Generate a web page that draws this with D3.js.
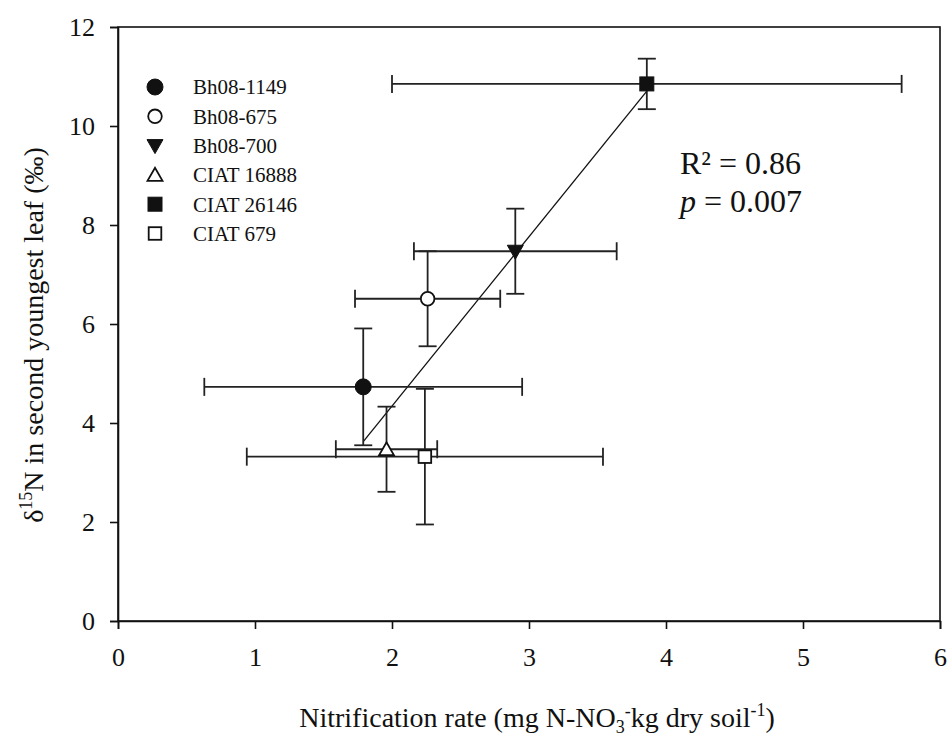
<!DOCTYPE html>
<html><head><meta charset="utf-8">
<script src="https://cdn.jsdelivr.net/npm/d3@7"></script>
<style>
html,body{margin:0;padding:0;background:#fff;}
</style></head>
<body><svg id="c" width="951" height="736"></svg>
<script>
const genotypes = ["Bh08-1149","Bh08-675","Bh08-700","CIAT 16888","CIAT 26146","CIAT 679"];
const nitrification = [1.79, 2.26, 2.90, 1.96, 3.86, 2.24];
const nitrificationErr = [1.16, 0.53, 0.74, 0.37, 1.86, 1.30];
const delta15N = [4.73, 6.51, 7.47, 3.47, 10.85, 3.32];
const delta15NErr = [1.18, 0.96, 0.86, 0.86, 0.51, 1.37];
const symbols = ["circle","circle","triangleDown","triangleUp","square","square"];
const filled = [true,false,true,false,true,false];
const xTicks = [0,1,2,3,4,5,6];
const yTicks = [0,2,4,6,8,10,12];

const FF="Liberation Serif";
const W=951,H=736;
const m={left:118,right:11,top:27,bottom:115};
const svg=d3.select("#c");
const x=d3.scaleLinear().domain([0,6]).range([m.left,W-m.right]);
const y=d3.scaleLinear().domain([0,12]).range([H-m.bottom,m.top]);

svg.append("rect").attr("x",x(0)).attr("y",y(12)).attr("width",x(6)-x(0)).attr("height",y(0)-y(12))
  .attr("fill","none").attr("stroke","#111").attr("stroke-width",1.6);

const xa=svg.append("g").attr("transform",`translate(0,${y(0)})`)
  .call(d3.axisBottom(x).tickValues(xTicks).tickFormat(d3.format("d")).tickSize(8).tickPadding(19));
const ya=svg.append("g").attr("transform",`translate(${x(0)},0)`)
  .call(d3.axisLeft(y).tickValues(yTicks).tickFormat(d3.format("d")).tickSize(8).tickPadding(15));
[xa,ya].forEach(a=>{a.attr("font-family",FF).attr("font-size",26);
  a.select(".domain").attr("stroke","#111").attr("stroke-width",1.6);
  a.selectAll(".tick line").attr("stroke","#111").attr("stroke-width",1.6);
  a.selectAll(".tick text").attr("fill","#111");});

const data=genotypes.map((g,i)=>({g,x:nitrification[i],xe:nitrificationErr[i],y:delta15N[i],ye:delta15NErr[i],s:symbols[i],f:filled[i]}));

const mx=d3.mean(data,d=>d.x),my=d3.mean(data,d=>d.y);
const slope=d3.sum(data,d=>(d.x-mx)*(d.y-my))/d3.sum(data,d=>(d.x-mx)**2);
const icpt=my-slope*mx;
const [x0,x1]=d3.extent(data,d=>d.x);
svg.append("line").attr("x1",x(x0)).attr("y1",y(icpt+slope*x0)).attr("x2",x(x1)).attr("y2",y(icpt+slope*x1))
  .attr("stroke","#111").attr("stroke-width",1.3);

const eb=svg.append("g").attr("stroke","#222").attr("stroke-width",1.8).attr("fill","none");
const cap=9;
data.forEach(d=>{
  eb.append("line").attr("x1",x(d.x-d.xe)).attr("x2",x(d.x+d.xe)).attr("y1",y(d.y)).attr("y2",y(d.y));
  eb.append("line").attr("x1",x(d.x-d.xe)).attr("x2",x(d.x-d.xe)).attr("y1",y(d.y)-cap).attr("y2",y(d.y)+cap);
  eb.append("line").attr("x1",x(d.x+d.xe)).attr("x2",x(d.x+d.xe)).attr("y1",y(d.y)-cap).attr("y2",y(d.y)+cap);
  eb.append("line").attr("x1",x(d.x)).attr("x2",x(d.x)).attr("y1",y(d.y-d.ye)).attr("y2",y(d.y+d.ye));
  eb.append("line").attr("x1",x(d.x)-cap).attr("x2",x(d.x)+cap).attr("y1",y(d.y-d.ye)).attr("y2",y(d.y-d.ye));
  eb.append("line").attr("x1",x(d.x)-cap).attr("x2",x(d.x)+cap).attr("y1",y(d.y+d.ye)).attr("y2",y(d.y+d.ye));
});

function sym(g,s,f,cx,cy){
  const st={fill:f?"#111":"#fff",stroke:"#111","stroke-width":f?1:1.8};
  let el;
  if(s==="circle"){el=g.append("circle").attr("cx",cx).attr("cy",cy).attr("r",f?8:6.8);}
  else if(s==="square"){const h=f?7:6.3;el=g.append("rect").attr("x",cx-h).attr("y",cy-h).attr("width",2*h).attr("height",2*h);}
  else if(s==="triangleDown"){el=g.append("path").attr("d",`M${cx-8},${cy-6}L${cx+8},${cy-6}L${cx},${cy+8}Z`);}
  else {el=g.append("path").attr("d",`M${cx-7.5},${cy+6}L${cx+7.5},${cy+6}L${cx},${cy-7}Z`);}
  Object.entries(st).forEach(([k,v])=>el.attr(k,v));
}
const mk=svg.append("g");
data.forEach(d=>sym(mk,d.s,d.f,x(d.x),y(d.y)));

const txt=(sel,size)=>sel.append("text").attr("font-family",FF).attr("font-size",size).attr("fill","#111");

const lg=svg.append("g");
genotypes.forEach((g,i)=>{
  const cy=87+i*29.3;
  sym(lg,symbols[i],filled[i],155,cy);
  txt(lg,21).attr("x",193).attr("y",cy).attr("dy","0.35em").text(g);
});

txt(svg,32).attr("x",680).attr("y",174).text("R² = 0.86");
const st2=txt(svg,32).attr("x",680).attr("y",212);
st2.append("tspan").attr("font-style","italic").text("p");
st2.append("tspan").text(" = 0.007");

const xt=txt(svg,28).attr("x",537).attr("y",727).attr("text-anchor","middle");
xt.append("tspan").text("Nitrification rate (mg N-NO");
xt.append("tspan").attr("font-size",18).attr("dy",6).text("3");
xt.append("tspan").attr("font-size",18).attr("dy",-16).text("-");
xt.append("tspan").attr("dy",10).text("kg dry soil");
xt.append("tspan").attr("font-size",18).attr("dy",-11).text("-1");
xt.append("tspan").attr("dy",11).text(")");

const yt=txt(svg,28).attr("transform",`translate(43,335) rotate(-90)`).attr("text-anchor","middle");
yt.append("tspan").text("δ");
yt.append("tspan").attr("font-size",18).attr("dy",-11).text("15");
yt.append("tspan").attr("dy",11).text("N in second youngest leaf (‰)");
</script></body></html>
